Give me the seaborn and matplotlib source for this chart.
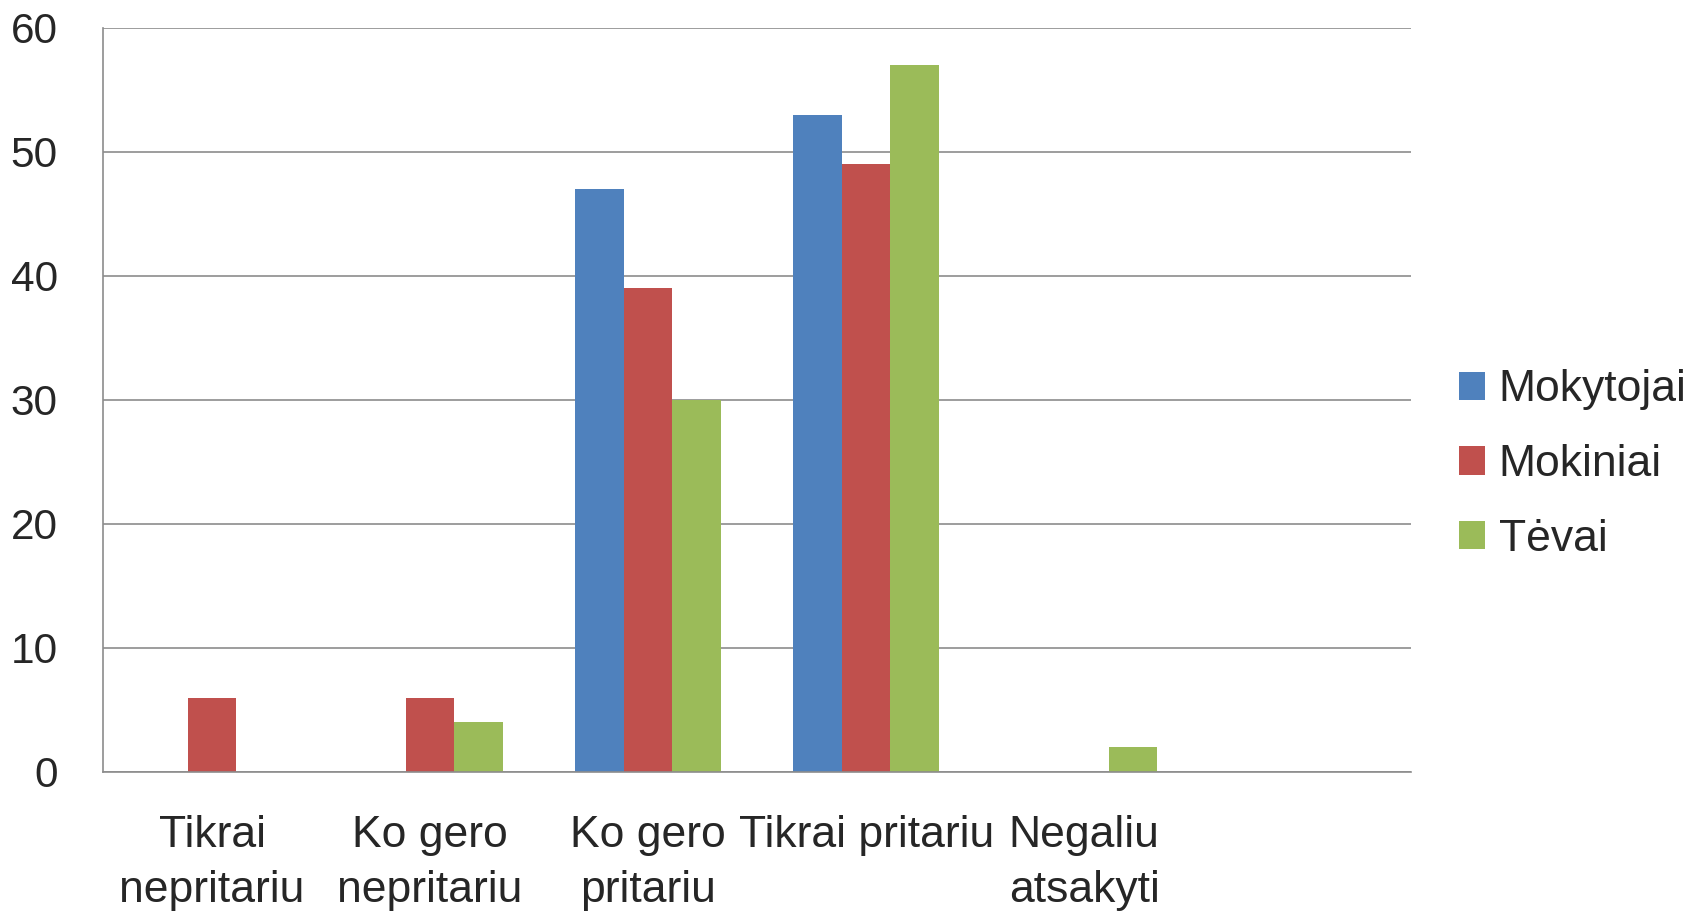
import pandas as pd
import matplotlib
matplotlib.use("Agg")
import matplotlib.pyplot as plt
import seaborn as sns
from matplotlib.ticker import FixedLocator

categories = ["Tikrai\nnepritariu", "Ko gero\nnepritariu", "Ko gero\npritariu",
              "Tikrai pritariu", "Negaliu\natsakyti", ""]
series = ["Mokytojai", "Mokiniai", "Tėvai"]
mokytojai = [0, 0, 47, 53, 0]
mokiniai = [6, 6, 39, 49, 0]
tevai = [0, 4, 30, 57, 2]
colors = ["#4F81BD", "#C0504D", "#9BBB59"]

rows = []
for name, vals in zip(series, [mokytojai, mokiniai, tevai]):
    for cat, v in zip(categories, vals):
        rows.append({"Kategorija": cat, "Grupė": name, "Reikšmė": v})
df = pd.DataFrame(rows)

sns.set_style("white")
plt.rcParams["font.family"] = ["Liberation Sans", "DejaVu Sans"]

fig = plt.figure(figsize=(16.98, 9.14), dpi=100)
ax = fig.add_axes([0.0607, 0.1554, 0.8311 - 0.0607, 0.9694 - 0.1554])

sns.barplot(
    data=df,
    x="Kategorija",
    y="Reikšmė",
    hue="Grupė",
    order=categories,
    hue_order=series,
    palette=colors,
    saturation=1,
    width=0.67,
    linewidth=0,
    ax=ax,
)

grid_c = "#8C8C8C"
ax.set_xlim(-0.5, len(categories) - 0.5)
ax.set_ylim(0, 60)
ax.set_yticks(range(0, 61, 10))
ax.yaxis.grid(True, color=grid_c, linewidth=1.2)
ax.set_axisbelow(True)
for s in ["top", "right"]:
    ax.spines[s].set_visible(False)
for s in ["left", "bottom"]:
    ax.spines[s].set_color(grid_c)
    ax.spines[s].set_linewidth(1.2)

ax.set_xlabel("")
ax.set_ylabel("")
ax.set_xticks(range(len(categories)), categories, linespacing=1.45)
ax.tick_params(axis="y", length=11.5, width=1.2, color=grid_c, pad=21, labelsize=30.5)
ax.tick_params(axis="x", which="major", length=0, pad=31, labelsize=32)
ax.xaxis.set_minor_locator(FixedLocator([i - 0.5 for i in range(len(categories) + 1)]))
ax.tick_params(axis="x", which="minor", length=10, width=1.2, color=grid_c)

handles, labels = ax.get_legend_handles_labels()
ax.legend(
    handles, labels,
    loc="center left",
    bbox_to_anchor=(0.859, 0.4915),
    bbox_transform=fig.transFigure,
    frameon=False,
    fontsize=32,
    handlelength=0.6,
    handleheight=0.6,
    handletextpad=0.3,
    labelspacing=0.76,
    borderpad=0,
    borderaxespad=0,
)

fig.savefig("out.png", dpi=100)
